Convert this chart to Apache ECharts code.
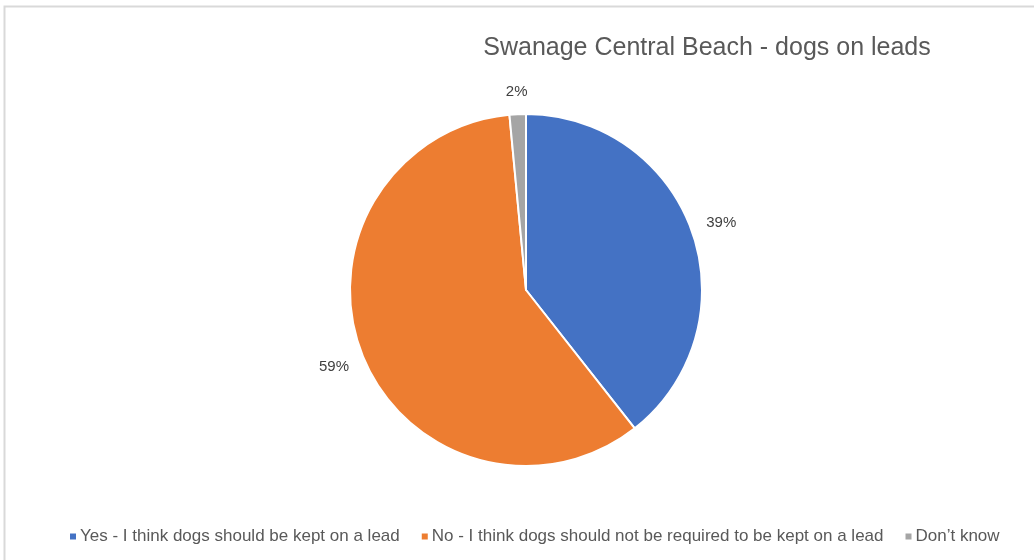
<!DOCTYPE html>
<html>
<head>
<meta charset="utf-8">
<script src="https://cdn.jsdelivr.net/npm/echarts@6/dist/echarts.min.js"></script>
<style>html,body{margin:0;padding:0;background:#fff}#c{width:1034px;height:560px}</style>
</head>
<body>
<div id="c"></div>
<script>
const titleText = 'Swanage Central Beach - dogs on leads';
const categories = [
  'Yes - I think dogs should be kept on a lead',
  'No - I think dogs should not be required to be kept on a lead',
  'Don\u2019t know'
];
// shares; labels show rounded percentages
const values = [39.4, 59.1, 1.5];
const colors = ['#4472C4', '#ED7D31', '#A5A5A5'];

const chart = echarts.init(document.getElementById('c'));
const FONT = '"Liberation Sans", "DejaVu Sans", sans-serif';
chart.setOption({
  animation: false,
  backgroundColor: '#fff',
  graphic: [{
    type: 'rect',
    shape: { x: 4.5, y: 6.5, width: 1100, height: 600 },
    style: { fill: 'none', stroke: '#d9d9d9', lineWidth: 2 },
    silent: true
  }],
  title: {
    text: titleText,
    left: 702, top: 31,
    textAlign: 'center',
    textStyle: { fontFamily: FONT, fontSize: 25, fontWeight: 'normal', color: '#595959' }
  },
  legend: {
    bottom: 10,
    left: 63,
    icon: 'rect',
    itemWidth: 8, itemHeight: 8,
    itemGap: 20,
    textStyle: { fontFamily: FONT, fontSize: 17, color: '#595959', padding: [0, 0, 0, -2] },
    data: categories
  },
  series: [{
    type: 'pie',
    center: [526, 290],
    radius: 176,
    startAngle: 90,
    clockwise: true,
    itemStyle: { borderColor: '#fff', borderWidth: 2 },
    label: {
      show: true,
      position: 'outside',
      formatter: p => Math.round(p.value) + '%',
      fontFamily: FONT, fontSize: 15, color: '#404040'
    },
    labelLine: { show: false, length: 14, length2: 0 },
    labelLayout: function (params) {
      const pts = params.labelLinePoints;
      if (!pts) return {};
      const p0 = pts[0], p1 = pts[1];
      let dx = p1[0] - p0[0], dy = p1[1] - p0[1];
      const len = Math.sqrt(dx * dx + dy * dy) || 1;
      dx /= len; dy /= len;
      const w = params.labelRect.width, h = params.labelRect.height;
      const off = len + Math.abs(dx) * w / 2 + Math.abs(dy) * h / 2;
      return {
        x: p0[0] + dx * off,
        y: p0[1] + dy * off,
        align: 'center',
        verticalAlign: 'middle'
      };
    },
    data: categories.map((c, i) => ({ name: c, value: values[i], itemStyle: { color: colors[i] } }))
  }]
});
</script>
</body>
</html>
